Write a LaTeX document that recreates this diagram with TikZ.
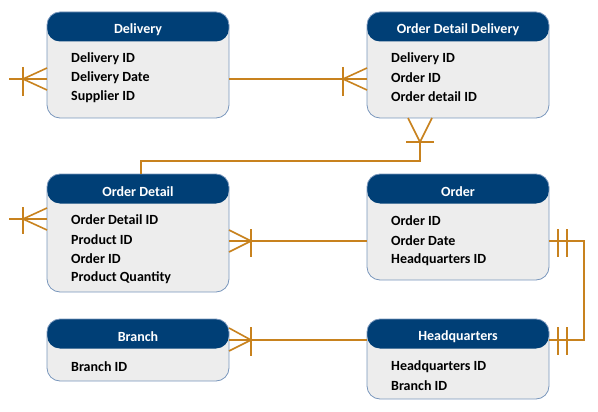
\documentclass[tikz,border=0pt]{standalone}
\usepackage{fontspec}
\setmainfont{Carlito}
\begin{document}
\begin{tikzpicture}[x=1pt,y=-1pt,
  entity/.style={draw=entborder, line width=0.8pt, fill=entbody, rounded corners=13pt,
    minimum width=182pt, inner sep=0pt, outer sep=0pt, anchor=north west,
    path picture={\fill[hdrblue] (path picture bounding box.north west) rectangle ([yshift=-29.5pt]path picture bounding box.north east);}},
  title/.style={text=white, font=\fontsize{14}{16}\selectfont\bfseries, inner sep=0pt},
  field/.style={text=black, font=\fontsize{14}{16}\selectfont\bfseries, inner sep=0pt, anchor=west},
  rel/.style={draw=relorange, line width=1.6pt},
]
\definecolor{hdrblue}{RGB}{0,63,118}
\definecolor{entbody}{RGB}{237,237,237}
\definecolor{entborder}{RGB}{120,150,188}
\definecolor{relorange}{RGB}{200,130,30}
\useasboundingbox (0,0) rectangle (598,412);

% entities
\node[entity, minimum height=106pt] (del) at (47,12) {};
\node[entity, minimum height=106pt] (odd) at (367,12) {};
\node[entity, minimum height=118pt] (od) at (47,174) {};
\node[entity, minimum height=106pt] (ord) at (367,174) {};
\node[entity, minimum height=62pt] (br) at (47,319) {};
\node[entity, minimum height=80pt] (hq) at (367,319) {};

% titles
\node[title] (delT) at ([yshift=-17.5pt]del.north) {Delivery};
\node[title] (oddT) at ([yshift=-17.5pt]odd.north) {Order Detail Delivery};
\node[title] (odT) at ([yshift=-17.5pt]od.north) {Order Detail};
\node[title] (ordT) at ([yshift=-17.5pt]ord.north) {Order};
\node[title] (brT) at ([yshift=-17.5pt]br.north) {Branch};
\node[title] (hqT) at ([yshift=-17.5pt]hq.north) {Headquarters};

% fields
\node[field] (del1) at ([xshift=24pt,yshift=-46.5pt]del.north west) {Delivery ID};
\node[field] (del2) at ([xshift=24pt,yshift=-65.5pt]del.north west) {Delivery Date};
\node[field] (del3) at ([xshift=24pt,yshift=-84.5pt]del.north west) {Supplier ID};

\node[field] (odd1) at ([xshift=24pt,yshift=-46.5pt]odd.north west) {Delivery ID};
\node[field] (odd2) at ([xshift=24pt,yshift=-65.5pt]odd.north west) {Order ID};
\node[field] (odd3) at ([xshift=24pt,yshift=-84.5pt]odd.north west) {Order detail ID};

\node[field] (od1) at ([xshift=24pt,yshift=-46pt]od.north west) {Order Detail ID};
\node[field] (od2) at ([xshift=24pt,yshift=-65.5pt]od.north west) {Product ID};
\node[field] (od3) at ([xshift=24pt,yshift=-84.5pt]od.north west) {Order ID};
\node[field] (od4) at ([xshift=24pt,yshift=-103.5pt]od.north west) {Product Quantity};

\node[field] (ord1) at ([xshift=24pt,yshift=-46.5pt]ord.north west) {Order ID};
\node[field] (ord2) at ([xshift=24pt,yshift=-66.5pt]ord.north west) {Order Date};
\node[field] (ord3) at ([xshift=24pt,yshift=-85.5pt]ord.north west) {Headquarters ID};

\node[field] (br1) at ([xshift=24pt,yshift=-47.5pt]br.north west) {Branch ID};

\node[field] (hq1) at ([xshift=24pt,yshift=-47.5pt]hq.north west) {Headquarters ID};
\node[field] (hq2) at ([xshift=24pt,yshift=-66.5pt]hq.north west) {Branch ID};

% connection points
\coordinate (delL) at ([yshift=-67pt]del.north west);
\coordinate (delFree) at ([xshift=-38pt]delL);
\coordinate (delR) at ([yshift=-67pt]del.north east);
\coordinate (oddL) at ([yshift=-67pt]odd.north west);
\coordinate (oddB) at ([xshift=53pt]odd.south west);
\coordinate (oddBar) at ([yshift=-24pt]oddB);
\coordinate (odTop) at ([xshift=94pt]od.north west);
\coordinate (odL) at ([yshift=-45pt]od.north west);
\coordinate (odFree) at ([xshift=-38pt]odL);
\coordinate (odR) at ([yshift=-67pt]od.north east);
\coordinate (ordL) at ([yshift=-67pt]ord.north west);
\coordinate (ordR) at ([yshift=-67pt]ord.north east);
\coordinate (brR) at ([yshift=-21pt]br.north east);
\coordinate (hqL) at ([yshift=-21pt]hq.north west);
\coordinate (hqR) at ([yshift=-21pt]hq.north east);

% Delivery -- Order Detail Delivery
\draw[rel] (delR) -- (oddL);
\draw[rel] ([yshift=11pt]oddL) -- ([xshift=-24pt]oddL) -- ([yshift=-11pt]oddL);
\draw[rel] ([xshift=-24pt,yshift=12pt]oddL) -- ([xshift=-24pt,yshift=-17pt]oddL);

% Delivery free end
\draw[rel] (delFree) -- (delL);
\draw[rel] ([yshift=11pt]delL) -- ([xshift=-24pt]delL) -- ([yshift=-11pt]delL);
\draw[rel] ([xshift=-24pt,yshift=12pt]delL) -- ([xshift=-24pt,yshift=-17pt]delL);

% Order Detail Delivery -- Order Detail
\draw[rel] ([xshift=-12pt]oddB) -- (oddBar) -- ([xshift=12pt]oddB);
\draw[rel] ([xshift=-14pt]oddBar) -- ([xshift=14pt]oddBar);
\draw[rel] (oddBar) |- ([yshift=13pt]odTop -| oddBar) -| (odTop);

% Order Detail free end
\draw[rel] (odFree) -- (odL);
\draw[rel] ([yshift=11pt]odL) -- ([xshift=-24pt]odL) -- ([yshift=-11pt]odL);
\draw[rel] ([xshift=-24pt,yshift=12pt]odL) -- ([xshift=-24pt,yshift=-15pt]odL);

% Order Detail -- Order
\draw[rel] (odR) -- (ordL);
\draw[rel] ([yshift=11pt]odR) -- ([xshift=22pt]odR) -- ([yshift=-11pt]odR);
\draw[rel] ([xshift=22pt,yshift=12pt]odR) -- ([xshift=22pt,yshift=-16pt]odR);

% Order -- Headquarters
\draw[rel] (ordR) -- ([xshift=35pt]ordR) |- (hqR);
\draw[rel] ([xshift=9pt,yshift=12pt]ordR) -- ([xshift=9pt,yshift=-16pt]ordR);
\draw[rel] ([xshift=18pt,yshift=12pt]ordR) -- ([xshift=18pt,yshift=-16pt]ordR);
\draw[rel] ([xshift=9pt,yshift=13pt]hqR) -- ([xshift=9pt,yshift=-15pt]hqR);
\draw[rel] ([xshift=18pt,yshift=13pt]hqR) -- ([xshift=18pt,yshift=-15pt]hqR);

% Branch -- Headquarters
\draw[rel] (brR) -- (hqL);
\draw[rel] ([yshift=12pt]brR) -- ([xshift=22pt]brR) -- ([yshift=-11pt]brR);
\draw[rel] ([xshift=22pt,yshift=13pt]brR) -- ([xshift=22pt,yshift=-16pt]brR);
\end{tikzpicture}
\end{document}
